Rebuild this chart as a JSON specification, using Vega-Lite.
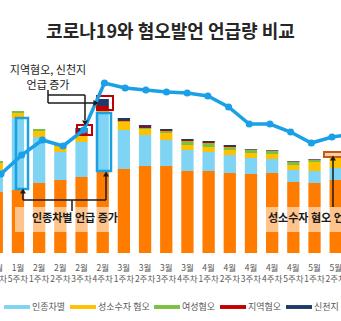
{
  "$schema": "https://vega.github.io/schema/vega-lite/v6.json",
  "width": 341,
  "height": 208,
  "autosize": {"type": "none"},
  "padding": {"top": 45, "left": 0, "right": 0, "bottom": 68},
  "title": {"text": "코로나19와 혐오발언 언급량 비교", "fontSize": 18, "fontWeight": "bold", "color": "#262626", "anchor": "middle", "offset": 3, "font": "Noto Sans CJK KR"},
  "config": {"view": {"stroke": null}, "font": "Noto Sans CJK KR"},
  "datasets": {
    "bars": [
      {"week": "1월 4주차", "코로나19": 61, "인종차별": 22, "성소수자 혐오": 7, "여성혐오": 2, "지역혐오": 0, "신천지 혐오": 0},
      {"week": "1월 5주차", "코로나19": 63, "인종차별": 72, "성소수자 혐오": 5, "여성혐오": 2, "지역혐오": 0, "신천지 혐오": 0},
      {"week": "2월 1주차", "코로나19": 70, "인종차별": 46, "성소수자 혐오": 6, "여성혐오": 2, "지역혐오": 0, "신천지 혐오": 0},
      {"week": "2월 2주차", "코로나19": 73, "인종차별": 28, "성소수자 혐오": 6, "여성혐오": 1, "지역혐오": 0, "신천지 혐오": 0},
      {"week": "2월 3주차", "코로나19": 76, "인종차별": 35, "성소수자 혐오": 6, "여성혐오": 2, "지역혐오": 2, "신천지 혐오": 4},
      {"week": "2월 4주차", "코로나19": 81, "인종차별": 59, "성소수자 혐오": 3, "여성혐오": 1, "지역혐오": 3, "신천지 혐오": 7},
      {"week": "3월 1주차", "코로나19": 84, "인종차별": 39, "성소수자 혐오": 8, "여성혐오": 1, "지역혐오": 1, "신천지 혐오": 2},
      {"week": "3월 2주차", "코로나19": 87, "인종차별": 31, "성소수자 혐오": 6, "여성혐오": 1, "지역혐오": 1, "신천지 혐오": 2},
      {"week": "3월 3주차", "코로나19": 87, "인종차별": 26, "성소수자 혐오": 7, "여성혐오": 2, "지역혐오": 1, "신천지 혐오": 1},
      {"week": "3월 4주차", "코로나19": 82, "인종차별": 21, "성소수자 혐오": 5, "여성혐오": 4, "지역혐오": 1, "신천지 혐오": 1},
      {"week": "4월 1주차", "코로나19": 82, "인종차별": 19, "성소수자 혐오": 5, "여성혐오": 4, "지역혐오": 1, "신천지 혐오": 1},
      {"week": "4월 2주차", "코로나19": 80, "인종차별": 18, "성소수자 혐오": 5, "여성혐오": 3, "지역혐오": 1, "신천지 혐오": 1},
      {"week": "4월 3주차", "코로나19": 79, "인종차별": 16, "성소수자 혐오": 5, "여성혐오": 3, "지역혐오": 0.5, "신천지 혐오": 0.5},
      {"week": "4월 4주차", "코로나19": 80, "인종차별": 14, "성소수자 혐오": 5, "여성혐오": 3, "지역혐오": 0.5, "신천지 혐오": 0.5},
      {"week": "4월 5주차", "코로나19": 71, "인종차별": 12, "성소수자 혐오": 5, "여성혐오": 3, "지역혐오": 0.5, "신천지 혐오": 0.5},
      {"week": "5월 1주차", "코로나19": 70, "인종차별": 12, "성소수자 혐오": 9, "여성혐오": 2, "지역혐오": 0.5, "신천지 혐오": 0.5},
      {"week": "5월 2주차", "코로나19": 73, "인종차별": 12, "성소수자 혐오": 11, "여성혐오": 2, "지역혐오": 0.5, "신천지 혐오": 0.5}
    ],
    "series": [
      {"name": "코로나19", "rank": 1},
      {"name": "인종차별", "rank": 2},
      {"name": "성소수자 혐오", "rank": 3},
      {"name": "여성혐오", "rank": 4},
      {"name": "지역혐오", "rank": 5},
      {"name": "신천지 혐오", "rank": 6}
    ],
    "line": [
      {"week": "1월 4주차", "total": 79},
      {"week": "1월 5주차", "total": 98},
      {"week": "2월 1주차", "total": 113},
      {"week": "2월 2주차", "total": 107},
      {"week": "2월 3주차", "total": 123},
      {"week": "2월 4주차", "total": 170},
      {"week": "3월 1주차", "total": 165},
      {"week": "3월 2주차", "total": 163},
      {"week": "3월 3주차", "total": 161},
      {"week": "3월 4주차", "total": 160},
      {"week": "4월 1주차", "total": 157},
      {"week": "4월 2주차", "total": 146},
      {"week": "4월 3주차", "total": 129},
      {"week": "4월 4주차", "total": 129},
      {"week": "4월 5주차", "total": 121},
      {"week": "5월 1주차", "total": 110},
      {"week": "5월 2주차", "total": 116},
      {"week": "5월 3주차", "total": 119}
    ],
    "boxes": [
      {"kind": "band", "x": 0.677, "x2": 5.414, "y": 46, "y2": 21},
      {"kind": "band", "x": 12.761, "x2": 16.628, "y": 46, "y2": 21},
      {"kind": "blue", "x": 0.725, "x2": 1.305, "y": 135, "y2": 64},
      {"kind": "blue", "x": 4.64, "x2": 5.317, "y": 140, "y2": 82},
      {"kind": "red", "x": 3.674, "x2": 4.399, "y": 128, "y2": 118},
      {"kind": "red", "x": 4.64, "x2": 5.414, "y": 157, "y2": 143},
      {"kind": "orange", "x": 15.613, "x2": 16.628, "y": 101, "y2": 96}
    ],
    "arrows": [
      {"x": 2.272, "x2": 2.272, "y": 163, "y2": 150},
      {"x": 2.272, "x2": 4.06, "y": 158, "y2": 158},
      {"x": 4.06, "x2": 4.06, "y": 158, "y2": 133},
      {"x": 2.272, "x2": 4.495, "y": 150, "y2": 150},
      {"x": 3.432, "x2": 3.432, "y": 53, "y2": 42},
      {"x": 1.063, "x2": 5.076, "y": 53, "y2": 53},
      {"x": 1.063, "x2": 1.063, "y": 53, "y2": 60},
      {"x": 5.076, "x2": 5.076, "y": 53, "y2": 77},
      {"x": 16.048, "x2": 16.048, "y": 46, "y2": 93}
    ],
    "heads": [
      {"x": 4.06, "y": 130, "dir": "down"},
      {"x": 4.592, "y": 150, "dir": "right"},
      {"x": 1.063, "y": 62, "dir": "up"},
      {"x": 5.076, "y": 79, "dir": "up"},
      {"x": 16.048, "y": 95, "dir": "up"}
    ],
    "notes": [
      {"x": 2.272, "y": 182.5, "t": "지역혐오, 신천지"},
      {"x": 2.272, "y": 167, "t": "언급 증가"}
    ],
    "bandnotes": [
      {"x": 3.577, "y": 34, "t": "인종차별 언급 증가"}
    ],
    "bandnotes2": [
      {"x": 12.906, "y": 34, "t": "성소수자 혐오 언급 증가"}
    ]
  },
  "resolve": {"scale": {"x": "independent"}},
  "layer": [
    {
      "data": {"name": "bars"},
      "transform": [
        {"fold": ["코로나19", "인종차별", "성소수자 혐오", "여성혐오", "지역혐오", "신천지 혐오"], "as": ["series", "value"]},
        {"lookup": "series", "from": {"data": {"name": "series"}, "key": "name", "fields": ["rank"]}}
      ],
      "mark": {"type": "bar"},
      "encoding": {
        "x": {
          "field": "week", "type": "ordinal", "sort": null,
          "scale": {"domain": ["1월 4주차","1월 5주차","2월 1주차","2월 2주차","2월 3주차","2월 4주차","3월 1주차","3월 2주차","3월 3주차","3월 4주차","4월 1주차","4월 2주차","4월 3주차","4월 4주차","4월 5주차","5월 1주차","5월 2주차","5월 3주차"], "range": [-9.344, 363.031], "paddingInner": 0.42, "paddingOuter": 0},
          "axis": {"title": null, "labelExpr": "split(datum.label, ' ')", "labelAngle": 0, "labelFontSize": 8.5, "labelColor": "#595959", "labelLineHeight": 11, "labelPadding": 10, "ticks": false, "domain": false, "labelOverlap": false, "labelBound": false, "labelFlush": false, "labelFont": "Noto Sans CJK KR"}
        },
        "y": {"field": "value", "type": "quantitative", "stack": "zero", "scale": {"domain": [0, 208], "nice": false}, "axis": null},
        "color": {
          "field": "series", "type": "nominal",
          "scale": {"domain": ["코로나19", "인종차별", "성소수자 혐오", "여성혐오", "지역혐오", "신천지 혐오"], "range": ["#FF7C00", "#7FD3F3", "#FFC000", "#7AC142", "#C00000", "#1F3A68"]},
          "legend": {"orient": "none", "legendX": 4, "legendY": 249, "direction": "horizontal", "title": null, "values": ["인종차별", "성소수자 혐오", "여성혐오", "지역혐오", "신천지 혐오"], "symbolType": "M-1,-0.15H1V0.15H-1Z", "symbolSize": 676, "symbolStrokeWidth": 0, "labelFontSize": 9, "labelColor": "#595959", "labelOffset": 2, "columnPadding": 4, "padding": 0, "labelFont": "Noto Sans CJK KR"}
        },
        "order": {"field": "rank", "type": "quantitative", "sort": "ascending"}
      }
    },
    {
      "data": {"name": "boxes"},
      "transform": [{"filter": "datum.kind == 'band'"}],
      "mark": {"type": "rect", "fill": "#FFFFFF", "opacity": 0.55},
      "encoding": {
        "x": {"field": "x", "type": "quantitative", "scale": {"domain": [-0.04834, 16.435], "nice": false, "zero": false}, "axis": null},
        "x2": {"field": "x2"},
        "y": {"field": "y", "type": "quantitative"},
        "y2": {"field": "y2"}
      }
    },
    {
      "data": {"name": "boxes"},
      "transform": [{"filter": "datum.kind == 'orange'"}],
      "mark": {"type": "rect", "fill": "#F8CBAD", "stroke": "#C55A11", "strokeWidth": 2},
      "encoding": {
        "x": {"field": "x", "type": "quantitative", "scale": {"domain": [-0.04834, 16.435], "nice": false, "zero": false}, "axis": null},
        "x2": {"field": "x2"},
        "y": {"field": "y", "type": "quantitative"},
        "y2": {"field": "y2"}
      }
    },
    {
      "data": {"name": "boxes"},
      "transform": [{"filter": "datum.kind == 'blue'"}],
      "mark": {"type": "rect", "fillOpacity": 0, "stroke": "#1BA1E2", "strokeWidth": 2.5},
      "encoding": {
        "x": {"field": "x", "type": "quantitative", "scale": {"domain": [-0.04834, 16.435], "nice": false, "zero": false}, "axis": null},
        "x2": {"field": "x2"},
        "y": {"field": "y", "type": "quantitative"},
        "y2": {"field": "y2"}
      }
    },
    {
      "data": {"name": "boxes"},
      "transform": [{"filter": "datum.kind == 'red'"}],
      "mark": {"type": "rect", "fillOpacity": 0, "stroke": "#C00000", "strokeWidth": 2},
      "encoding": {
        "x": {"field": "x", "type": "quantitative", "scale": {"domain": [-0.04834, 16.435], "nice": false, "zero": false}, "axis": null},
        "x2": {"field": "x2"},
        "y": {"field": "y", "type": "quantitative"},
        "y2": {"field": "y2"}
      }
    },
    {
      "data": {"name": "line"},
      "mark": {"type": "line", "color": "#1AA0E6", "strokeWidth": 3.5, "point": {"filled": true, "size": 50, "color": "#1AA0E6"}},
      "encoding": {
        "x": {"field": "week", "type": "ordinal", "sort": null, "scale": {"type": "point", "domain": ["1월 4주차","1월 5주차","2월 1주차","2월 2주차","2월 3주차","2월 4주차","3월 1주차","3월 2주차","3월 3주차","3월 4주차","4월 1주차","4월 2주차","4월 3주차","4월 4주차","4월 5주차","5월 1주차","5월 2주차","5월 3주차"], "range": [1, 352.69], "padding": 0}, "axis": null},
        "y": {"field": "total", "type": "quantitative"}
      }
    },
    {
      "data": {"name": "arrows"},
      "mark": {"type": "rule", "color": "#1A1A1A", "strokeWidth": 1.5},
      "encoding": {
        "x": {"field": "x", "type": "quantitative", "scale": {"domain": [-0.04834, 16.435], "nice": false, "zero": false}, "axis": null},
        "x2": {"field": "x2"},
        "y": {"field": "y", "type": "quantitative"},
        "y2": {"field": "y2"}
      }
    },
    {
      "data": {"name": "heads"},
      "mark": {"type": "point", "filled": true, "color": "#1A1A1A", "size": 35, "opacity": 1},
      "encoding": {
        "x": {"field": "x", "type": "quantitative", "scale": {"domain": [-0.04834, 16.435], "nice": false, "zero": false}, "axis": null},
        "y": {"field": "y", "type": "quantitative"},
        "shape": {"field": "dir", "type": "nominal", "scale": {"domain": ["up", "down", "right"], "range": ["triangle-up", "triangle-down", "triangle-right"]}, "legend": null}
      }
    },
    {
      "data": {"name": "notes"},
      "mark": {"type": "text", "fontSize": 11, "color": "#1A1A1A", "align": "center", "baseline": "middle", "font": "Noto Sans CJK KR"},
      "encoding": {
        "x": {"field": "x", "type": "quantitative", "scale": {"domain": [-0.04834, 16.435], "nice": false, "zero": false}, "axis": null},
        "y": {"field": "y", "type": "quantitative"},
        "text": {"field": "t"}
      }
    },
    {
      "data": {"name": "bandnotes"},
      "mark": {"type": "text", "fontSize": 11, "fontWeight": "bold", "color": "#1A1A1A", "align": "center", "baseline": "middle", "font": "Noto Sans CJK KR"},
      "encoding": {
        "x": {"field": "x", "type": "quantitative", "scale": {"domain": [-0.04834, 16.435], "nice": false, "zero": false}, "axis": null},
        "y": {"field": "y", "type": "quantitative"},
        "text": {"field": "t"}
      }
    },
    {
      "data": {"name": "bandnotes2"},
      "mark": {"type": "text", "fontSize": 11, "fontWeight": "bold", "color": "#1A1A1A", "align": "left", "baseline": "middle", "font": "Noto Sans CJK KR"},
      "encoding": {
        "x": {"field": "x", "type": "quantitative", "scale": {"domain": [-0.04834, 16.435], "nice": false, "zero": false}, "axis": null},
        "y": {"field": "y", "type": "quantitative"},
        "text": {"field": "t"}
      }
    }
  ]
}
